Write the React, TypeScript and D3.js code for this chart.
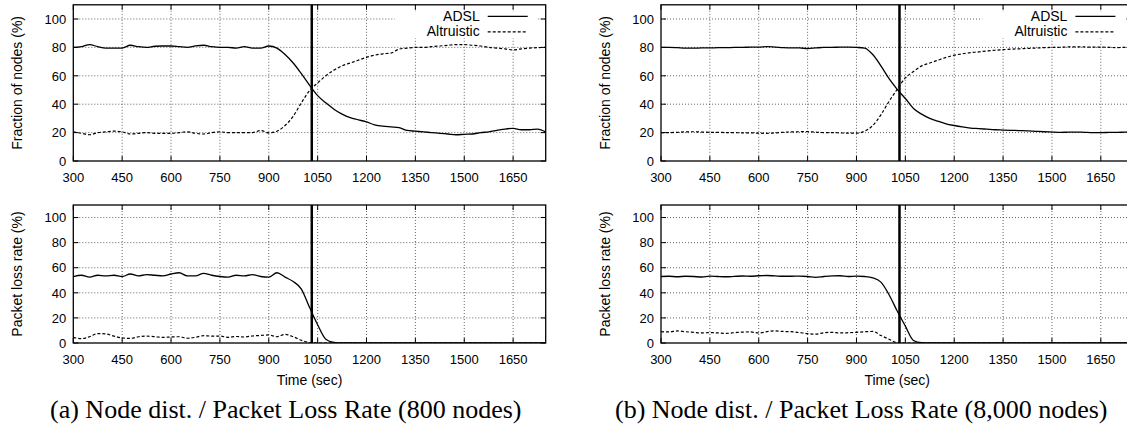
import React from "react";
import * as d3 from "d3";

const times = [
  300, 325, 350, 375, 400, 425, 450, 475, 500, 525,
  550, 575, 600, 625, 650, 675, 700, 725, 750, 775,
  800, 825, 850, 875, 900, 925, 950, 975, 1000, 1025,
  1050, 1075, 1100, 1125, 1150, 1175, 1200, 1225, 1250, 1275,
  1300, 1325, 1350, 1375, 1400, 1425, 1450, 1475, 1500, 1525,
  1550, 1575, 1600, 1625, 1650, 1675, 1700, 1725, 1750,
];

// (a) 800 nodes
const aNodeAdsl = [
  80, 80.5, 82, 80.5, 79.5, 79.5, 79.5, 81.5, 80.5, 80,
  80.8, 81, 81, 80.5, 80, 81, 81.5, 80.5, 80, 80,
  79.5, 80.5, 79.5, 79.5, 81, 79.5, 75, 69, 61.5, 53.5,
  46, 41, 36.5, 33, 30.5, 29, 27.5, 25.5, 24.5, 24,
  23.5, 21.5, 21, 20.5, 20, 19.5, 19, 18.5, 18.8, 19,
  20, 20.5, 21.5, 22.5, 23, 22, 22, 22.5, 20.5,
];
const aNodeAlt = [
  20.5, 19.5, 18.5, 20, 20.5, 21, 20.5, 19, 19.5, 20,
  19.5, 19.5, 19.5, 20, 20.5, 19.5, 19, 20, 20.5, 20,
  20, 20, 20, 21.5, 19.8, 21, 25, 31.5, 41, 49.5,
  55, 60, 64, 67, 69, 71, 73, 74.5, 75.5, 76,
  78.8, 79.5, 80, 80, 80.5, 81, 81.5, 82, 82, 81.5,
  81, 80, 79.5, 79, 78.2, 79, 79.5, 79.8, 80,
];
const aLossAdsl = [
  53, 54, 52.5, 54, 53.5, 54, 53, 55, 53.5, 54.5,
  54, 53.5, 55, 56, 53.5, 53.5, 55.5, 54, 53, 52.5,
  54, 53.5, 54.5, 53, 52.5, 56, 52.5, 49, 43, 28.5,
  14.5, 3, 0.5, 0, 0, 0, 0, 0, 0, 0,
  0, 0, 0, 0, 0, 0, 0, 0, 0, 0,
  0, 0, 0, 0, 0, 0, 0, 0, 0,
];
const aLossAlt = [
  4.5, 3.5, 5, 7.5, 7.2, 5.5, 4, 3.7, 5, 5.5,
  5, 4.5, 4.8, 5, 3.8, 4.5, 5.8, 5.5, 5.5, 4.5,
  5.2, 4.8, 5.6, 6, 6.4, 5, 6.9, 5, 2.2, 0.3,
  0, 0, 0, 0, 0, 0, 0, 0, 0, 0,
  0, 0, 0, 0, 0, 0, 0, 0, 0, 0,
  0, 0, 0, 0, 0, 0, 0, 0, 0,
];

// (b) 8,000 nodes
const bNodeAdsl = [
  80, 80, 79.8, 79.5, 79.5, 79.6, 79.6, 79.8, 79.8, 80,
  80, 80.2, 80.2, 80.5, 80.2, 79.8, 79.6, 79.6, 79.2, 79.6,
  80, 80, 80.2, 80.2, 80, 79.5, 75, 67, 58, 50.5,
  44, 37, 33, 30, 28, 26.2, 25, 24, 23.2, 22.8,
  22.4, 22, 21.8, 21.6, 21.4, 21.2, 20.9, 20.6, 20.4, 20.2,
  20.3, 20.4, 20.2, 20, 20, 20.1, 20.2, 20.3, 20.4,
];
const bNodeAlt = [
  20, 20, 20.2, 20.5, 20.6, 20.4, 20.2, 20.2, 20, 20,
  19.8, 19.8, 19.6, 19.5, 19.8, 20.2, 20.5, 20.6, 20.7, 20.3,
  20, 20, 19.8, 19.6, 19.6, 21, 25, 32.5, 42, 50.5,
  58.5, 63, 67, 69, 71, 73, 74.5, 75.5, 76.3, 76.8,
  77.5, 78, 78.4, 78.8, 79, 79.3, 79.5, 79.8, 80, 80.1,
  80.3, 80.4, 80.3, 80.2, 80.2, 80, 79.9, 80, 80,
];
const bLossAdsl = [
  53, 53.2, 52.8, 53.2, 53, 52.6, 53.3, 53, 52.8, 53.1,
  53.4, 53.2, 53.6, 53.8, 53.5, 53.2, 53.2, 53.3, 53, 52.3,
  53, 53.5, 53.6, 53, 53.3, 53, 52, 48.5, 38.5, 25.5,
  13.5, 2, 0.2, 0, 0, 0, 0, 0, 0, 0,
  0, 0, 0, 0, 0, 0, 0, 0, 0, 0,
  0, 0, 0, 0, 0, 0, 0, 0, 0,
];
const bLossAlt = [
  9, 8.8, 9.6, 9, 8.5, 8, 8.3, 8, 7.7, 8.2,
  8.7, 8.8, 8, 9, 9.7, 9.2, 9, 8.3, 7.5, 7,
  8.2, 8.5, 8, 8.2, 8.5, 9, 9.2, 6, 3, 0.3,
  0, 0, 0, 0, 0, 0, 0, 0, 0, 0,
  0, 0, 0, 0, 0, 0, 0, 0, 0, 0,
  0, 0, 0, 0, 0, 0, 0, 0, 0,
];

const xTicks = [300, 450, 600, 750, 900, 1050, 1200, 1350, 1500, 1650];
const yTicks = [0, 20, 40, 60, 80, 100];
const seriesNames = ["ADSL", "Altruistic"];
const markerTime = 1032;
const captions = [
  "(a) Node dist. / Packet Loss Rate (800 nodes)",
  "(b) Node dist. / Packet Loss Rate (8,000 nodes)",
];
const topLabel = "Fraction of nodes (%)";
const bottomLabel = "Packet loss rate (%)";
const xLabel = "Time (sec)";

const SANS = "'Liberation Sans', Arial, Helvetica, sans-serif";
const SERIF = "'Liberation Serif', 'Times New Roman', serif";

type PlotProps = {
  ox: number;
  yTop: number;
  yBottom: number;
  adsl: number[];
  alt: number[];
  label: string;
  legend: boolean;
  showXLabel: boolean;
  clipId: string;
};

function Plot({ ox, yTop, yBottom, adsl, alt, label, legend, showXLabel, clipId }: PlotProps) {
  const left = ox + 73.3;
  const right = ox + 545.7;
  const x = d3.scaleLinear().domain([300, 1750]).range([left, right]);
  const y = d3.scaleLinear().domain([0, 110]).range([yBottom, yTop]);
  const line = d3
    .line<number>()
    .x((_, i) => x(times[i]))
    .y((d) => y(d))
    .curve(d3.curveMonotoneX);
  const tick = 5;
  const gridStyle = { stroke: "#222", strokeWidth: 0.7, strokeDasharray: "1,2" };
  const legendRight = right;
  return (
    <g>
      <defs>
        <clipPath id={clipId}>
          <rect x={left} y={yTop} width={right - left} height={yBottom - yTop} />
        </clipPath>
      </defs>
      {/* grid */}
      {xTicks.filter((t) => t !== 300).map((t) => (
        <line key={"gx" + t} x1={x(t)} x2={x(t)} y1={yTop} y2={yBottom} style={gridStyle} />
      ))}
      {yTicks.filter((t) => t !== 0).map((t) => (
        <line key={"gy" + t} x1={left} x2={right} y1={y(t)} y2={y(t)} style={gridStyle} />
      ))}
      {legend && (
        <rect x={legendRight - 151} y={yTop + 6.5} width={142} height={27} fill="#fff" />
      )}
      {/* ticks */}
      {xTicks.map((t) => (
        <g key={"tx" + t}>
          <line x1={x(t)} x2={x(t)} y1={yBottom} y2={yBottom - tick} stroke="#000" strokeWidth={1} />
          <line x1={x(t)} x2={x(t)} y1={yTop} y2={yTop + tick} stroke="#000" strokeWidth={1} />
          <text
            x={x(t)}
            y={yBottom + 20.5}
            textAnchor="middle"
            fontFamily={SANS}
            fontSize={13}
            fill="#000"
          >
            {t}
          </text>
        </g>
      ))}
      {yTicks.map((t) => (
        <g key={"ty" + t}>
          <line x1={left} x2={left + tick} y1={y(t)} y2={y(t)} stroke="#000" strokeWidth={1} />
          <line x1={right} x2={right - tick} y1={y(t)} y2={y(t)} stroke="#000" strokeWidth={1} />
          <text
            x={left - 7}
            y={y(t) + 4.7}
            textAnchor="end"
            fontFamily={SANS}
            fontSize={13}
            fill="#000"
          >
            {t}
          </text>
        </g>
      ))}
      {/* data */}
      <g clipPath={`url(#${clipId})`}>
        <path d={line(adsl) || ""} fill="none" stroke="#000" strokeWidth={1.3} />
        <path d={line(alt) || ""} fill="none" stroke="#000" strokeWidth={1.2} strokeDasharray="3,2" />
      </g>
      {/* marker */}
      <line x1={x(markerTime)} x2={x(markerTime)} y1={yTop} y2={yBottom} stroke="#000" strokeWidth={2.5} />
      {/* border */}
      <rect x={left} y={yTop} width={right - left} height={yBottom - yTop} fill="none" stroke="#000" strokeWidth={1.3} />
      {/* legend */}
      {legend && (
        <g fontFamily={SANS} fontSize={14} fill="#000">
          <text x={legendRight - 66} y={yTop + 16} textAnchor="end">{seriesNames[0]}</text>
          <line x1={legendRight - 58} x2={legendRight - 18} y1={yTop + 11.5} y2={yTop + 11.5} stroke="#000" strokeWidth={1.3} />
          <text x={legendRight - 66} y={yTop + 31} textAnchor="end">{seriesNames[1]}</text>
          <line x1={legendRight - 58} x2={legendRight - 18} y1={yTop + 27} y2={yTop + 27} stroke="#000" strokeWidth={1.2} strokeDasharray="3,2" />
        </g>
      )}
      {/* y label */}
      <text
        transform={`translate(${ox + 22},${(yTop + yBottom) / 2}) rotate(-90)`}
        textAnchor="middle"
        fontFamily={SANS}
        fontSize={14}
        fill="#000"
      >
        {label}
      </text>
      {showXLabel && (
        <text x={(left + right) / 2} y={yBottom + 42} textAnchor="middle" fontFamily={SANS} fontSize={14} fill="#000">
          {xLabel}
        </text>
      )}
    </g>
  );
}

export default function App() {
  const offsets = [0, 587.7];
  return (
    <svg
      width={1127}
      height={429}
      style={{ position: "absolute", left: 0, top: 0, display: "block", background: "#fff" }}
    >
      <rect x={0} y={0} width={1127} height={429} fill="#fff" />
      {[
        { top: [aNodeAdsl, aNodeAlt], bot: [aLossAdsl, aLossAlt] },
        { top: [bNodeAdsl, bNodeAlt], bot: [bLossAdsl, bLossAlt] },
      ].map((p, i) => (
        <g key={i}>
          <Plot
            ox={offsets[i]}
            yTop={4.8}
            yBottom={161}
            adsl={p.top[0]}
            alt={p.top[1]}
            label={topLabel}
            legend={true}
            showXLabel={false}
            clipId={"ct" + i}
          />
          <Plot
            ox={offsets[i]}
            yTop={205}
            yBottom={343}
            adsl={p.bot[0]}
            alt={p.bot[1]}
            label={bottomLabel}
            legend={false}
            showXLabel={true}
            clipId={"cb" + i}
          />
        </g>
      ))}
      <text x={50} y={418} fontFamily={SERIF} fontSize={26} fill="#000">{captions[0]}</text>
      <text x={615} y={418} fontFamily={SERIF} fontSize={26} fill="#000">{captions[1]}</text>
    </svg>
  );
}
